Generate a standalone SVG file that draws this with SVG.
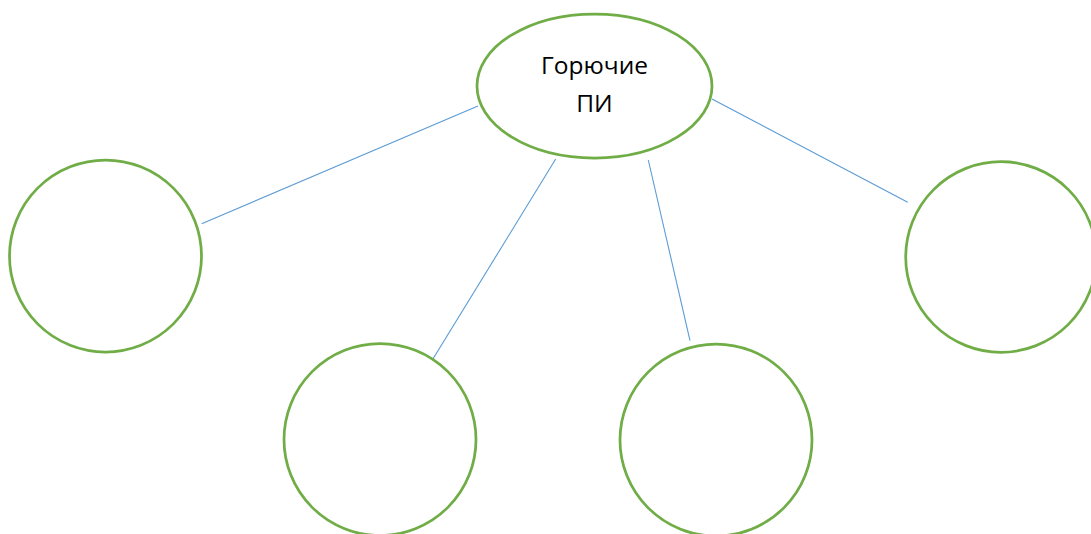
<svg xmlns="http://www.w3.org/2000/svg" width="1091" height="534" viewBox="0 0 1091 534">
<style>
.node{fill:#ffffff;stroke:#70AD47;stroke-width:2.75}
.conn{stroke:#5B9BD5;stroke-width:1.1;fill:none}
.lbl{font-family:"Open Sans","Liberation Sans",sans-serif;font-size:24.5px;fill:#000000;text-anchor:middle}
</style>
<rect width="1091" height="534" fill="#ffffff"/>
<g id="connectors">
<line class="conn" x1="478" y1="106" x2="201.7" y2="223.7"/>
<line class="conn" x1="555.7" y1="159" x2="430.3" y2="363.3"/>
<line class="conn" x1="648.3" y1="160" x2="690" y2="340.7"/>
<line class="conn" x1="712" y1="99" x2="907.7" y2="202.3"/>
</g>
<g id="root">
<ellipse class="node" cx="594.5" cy="86" rx="117.5" ry="72"/>
<text class="lbl" x="594.5" y="74">Горючие</text>
<text class="lbl" x="594.5" y="111.7">ПИ</text>
</g>
<g id="node-left"><circle class="node" cx="105.5" cy="256" r="96"/></g>
<g id="node-bottom-left"><circle class="node" cx="380" cy="439.5" r="96"/></g>
<g id="node-bottom-right"><circle class="node" cx="716" cy="440" r="96"/></g>
<g id="node-right"><circle class="node" cx="1001" cy="257" r="95.3"/></g>
</svg>
